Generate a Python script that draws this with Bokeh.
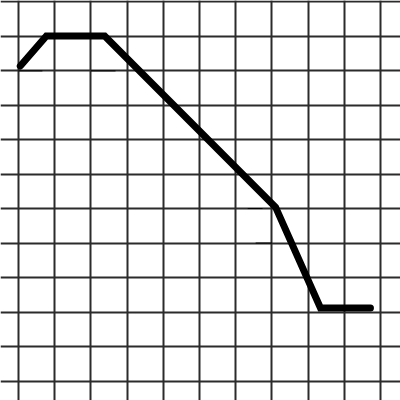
from bokeh.plotting import figure
from bokeh.models import FixedTicker, Range1d
from bokeh.embed import file_html
from bokeh.resources import INLINE

# Line vertices in grid-cell units
xs = [0.05, 0.77, 2.38, 7.10, 8.34, 9.72]
ys = [9.13, 10.0, 10.0, 5.04, 2.12, 2.12]

# Small pencil tick marks on the paper
mark_x0 = [0.0, 2.0, 6.33, 6.55]
mark_x1 = [0.66, 2.68, 6.74, 7.0]
mark_y = [8.99, 8.99, 5.0, 4.0]

grid_x = list(range(0, 11))
grid_y = list(range(0, 12))

p = figure(width=400, height=400, output_backend="svg", toolbar_location=None,
           x_range=Range1d(-0.497, 10.55), y_range=Range1d(-0.564, 11.03),
           min_border=0)
p.axis.visible = False
p.outline_line_color = None
p.background_fill_color = "white"
p.border_fill_color = "white"

p.xgrid.ticker = FixedTicker(ticks=grid_x)
p.ygrid.ticker = FixedTicker(ticks=grid_y)
for g in (p.xgrid, p.ygrid):
    g.grid_line_color = "#2b2b2b"
    g.grid_line_width = 2
    g.grid_line_alpha = 1.0

p.segment(x0=mark_x0, y0=mark_y, x1=mark_x1, y1=mark_y, line_color="black", line_width=1)
p.line(xs, ys, line_color="black", line_width=7, line_join="miter", line_cap="round")

open("out.html", "w").write(file_html(p, INLINE))
